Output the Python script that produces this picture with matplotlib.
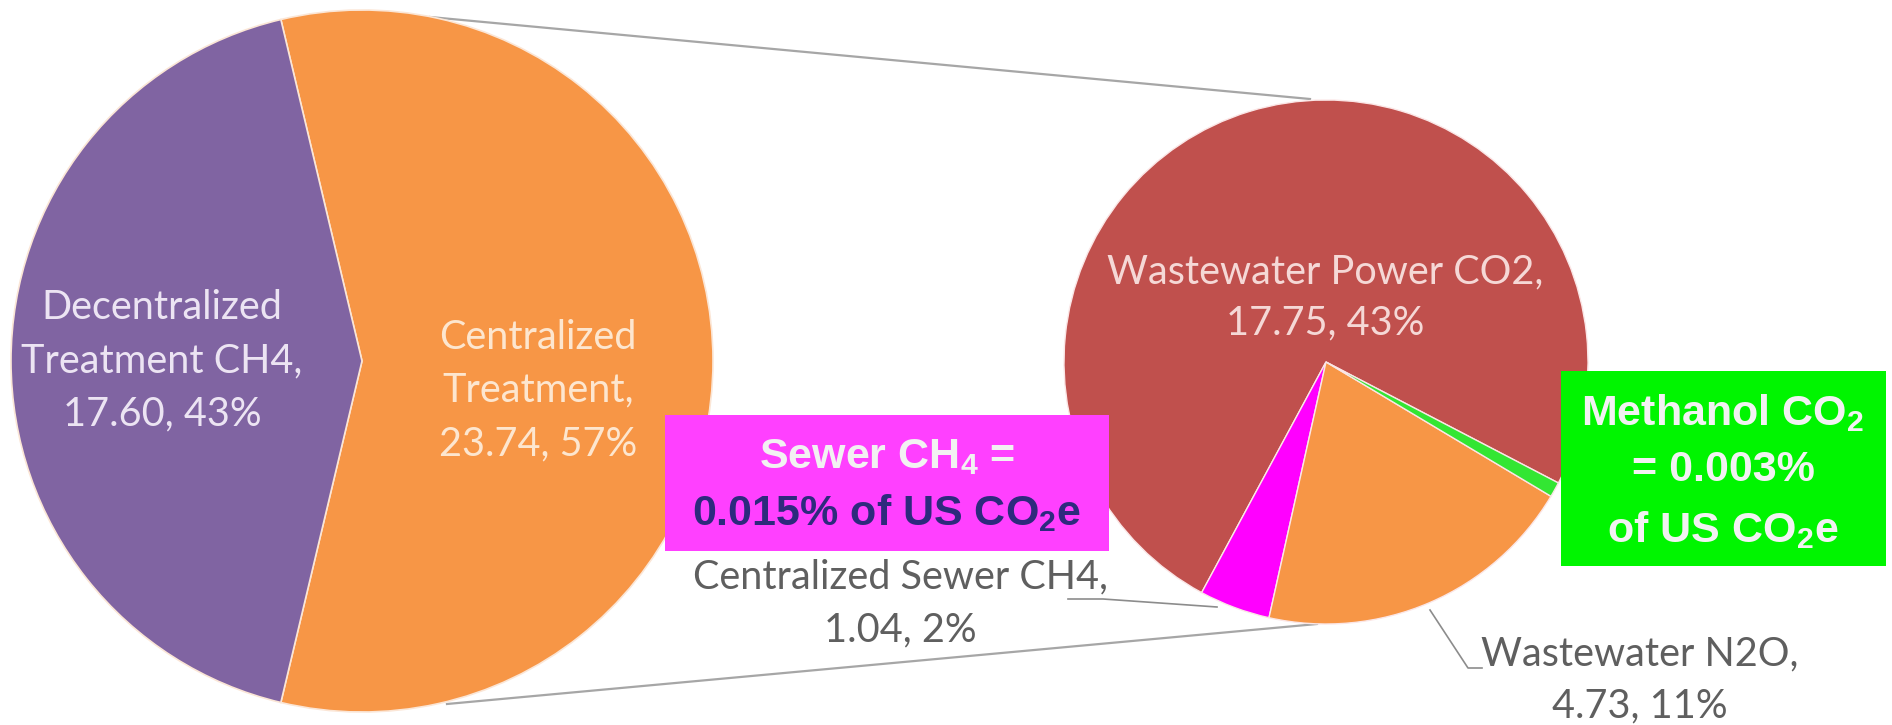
import numpy as np
import matplotlib
matplotlib.use("Agg")
import matplotlib.pyplot as plt
from matplotlib.patches import Rectangle

plt.rcParams['mathtext.fontset'] = 'custom'
plt.rcParams['mathtext.rm'] = 'Liberation Sans:bold'
plt.rcParams['mathtext.it'] = 'Liberation Sans:bold'
plt.rcParams['mathtext.bf'] = 'Liberation Sans:bold'

# --- data (Tg CO2e) ---
main_labels = ["Centralized\nTreatment", "Decentralized\nTreatment CH4"]
main_values = [23.74, 17.60]
main_pcts = [57, 43]

sub_labels = ["Wastewater Power CO2", "Centralized Sewer CH4",
              "Wastewater N2O", "Methanol CO2"]
sub_values = [17.75, 1.04, 4.73, 0.22]
sub_pcts = [43, 2, 11, 0]

W, H = 1892, 725
def Y(y):
    # pixel row (from top) -> data y
    return H - y

main_colors = ["#f79646", "#8064a2"]
sub_colors = ["#c0504d", "#ff00ff", "#f79646", "#33e633"]

fig = plt.figure(figsize=(W / 100, H / 100), dpi=100)
ax = fig.add_axes([0, 0, 1, 1])

# left pie, the exploded slice centred on the horizontal
c1, r1 = (362, Y(361)), 351
span = 360 * main_values[0] / sum(main_values)
ax.pie(main_values, colors=main_colors, center=c1, radius=r1,
       startangle=-span / 2, counterclock=True,
       wedgeprops=dict(edgecolor="#fbe6d6", linewidth=1.2))

# right pie, breakdown of centralized treatment
c2, r2 = (1326, Y(362)), 262
ax.pie(sub_values, colors=sub_colors, center=c2, radius=r2,
       startangle=-27.5, counterclock=True,
       wedgeprops=dict(edgecolor="#fbe6e6", linewidth=1.0))

ax.set_xlim(0, W)
ax.set_ylim(0, H)
ax.set_aspect("equal")
ax.axis("off")

# connector lines between the two pies
ax.plot([430, 1310], [Y(17), Y(99)], color="#a6a6a6", lw=1.6, zorder=0)
ax.plot([447, 1317], [Y(704), Y(624)], color="#a6a6a6", lw=1.6, zorder=0)

calibri = "Lato"
fs = 28.5

def stacked(x, ys, lines, color):
    for yy, s in zip(ys, lines):
        ax.text(x, Y(yy), s, ha="center", va="center", fontsize=fs,
                family=calibri, color=color)

stacked(162, [307, 361, 414],
        ["Decentralized", "Treatment CH4,",
         f"{main_values[1]:.2f}, {main_pcts[1]}%"], "#ece4f3")
stacked(538, [337, 390, 444],
        ["Centralized", "Treatment,",
         f"{main_values[0]:.2f}, {main_pcts[0]}%"], "#fde6cf")
stacked(1325, [272, 323],
        [f"{sub_labels[0]},", f"{sub_values[0]:.2f}, {sub_pcts[0]}%"],
        "#f5d8d6")
stacked(900, [577, 630],
        [f"{sub_labels[1]},", f"{sub_values[1]:.2f}, {sub_pcts[1]}%"],
        "#5f5f5f")
stacked(1640, [654, 706],
        [f"{sub_labels[2]},", f"{sub_values[2]:.2f}, {sub_pcts[2]}%"],
        "#5f5f5f")

# leader lines for the outside labels
ax.plot([1068, 1103, 1217], [Y(599), Y(599), Y(607)], color="#8c8c8c", lw=1.2)
ax.plot([1430, 1468, 1482], [Y(610), Y(668), Y(668)], color="#8c8c8c", lw=1.2)

# highlight boxes
ax.add_patch(Rectangle((665, Y(551)), 444, 136, facecolor="#ff40ff",
                       edgecolor="none", zorder=5))
ax.text(887, Y(457), r"Sewer CH$_4$ =", ha="center", va="center",
        fontsize=31, family="Liberation Sans", fontweight="bold",
        color="#f2f2f2", zorder=6)
ax.text(887, Y(513), r"0.015% of US CO$_2$e", ha="center", va="center",
        fontsize=31, family="Liberation Sans", fontweight="bold",
        color="#2e2a7d", zorder=6)

ax.add_patch(Rectangle((1561, Y(566)), 325, 195, facecolor="#00f500",
                       edgecolor="none", zorder=5))
for yy, s in zip([413, 470, 530],
                 [r"Methanol CO$_2$", "= 0.003%", r"of US CO$_2$e"]):
    ax.text(1723, Y(yy), s, ha="center", va="center", fontsize=31,
            family="Liberation Sans", fontweight="bold", color="#f2f2f2",
            zorder=6)

fig.savefig("out.png", dpi=100)
